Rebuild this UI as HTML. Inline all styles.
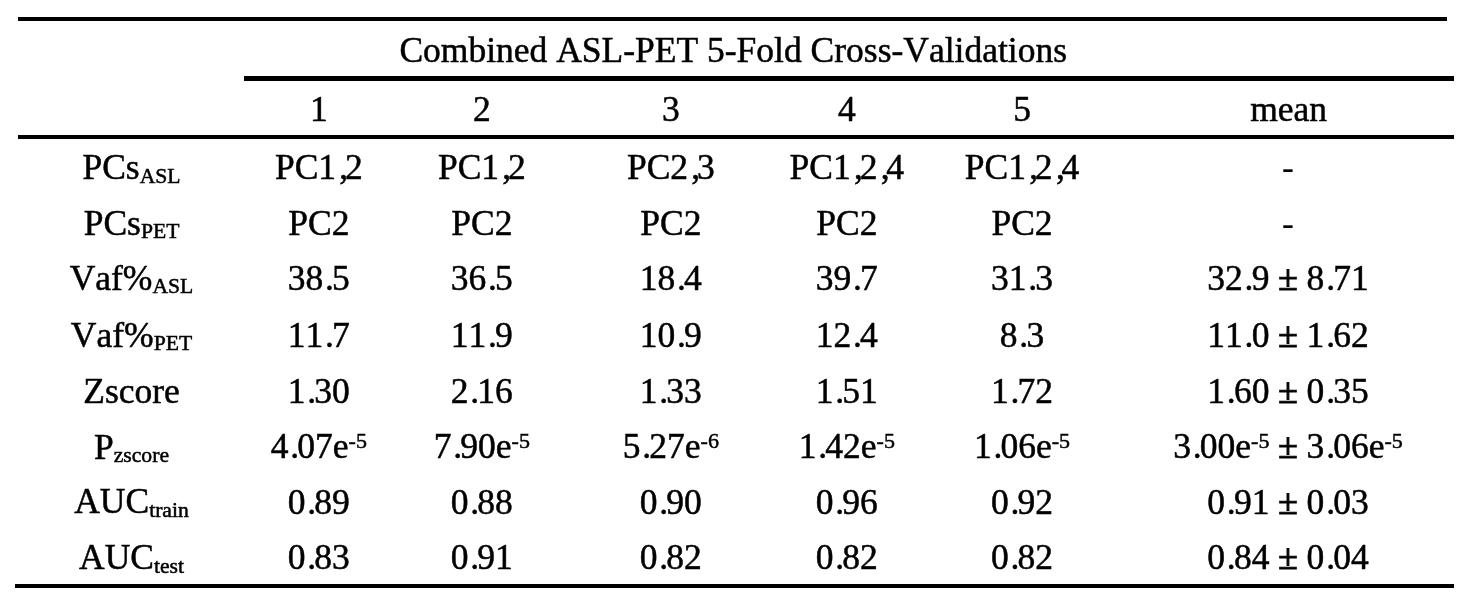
<!DOCTYPE html>
<html><head><meta charset="utf-8"><title>Table</title>
<style>
html,body{margin:0;padding:0;background:#fff;}
body{width:1470px;height:610px;position:relative;overflow:hidden;font-family:"Liberation Serif","Times New Roman",serif;color:#000;}
.ln{position:absolute;background:#000;}
.t{position:absolute;width:0;height:0;line-height:0;white-space:nowrap;}
.t>span{position:absolute;left:0;top:0;transform:translateX(-50%);display:inline-block;line-height:0;}
.pm{-webkit-text-stroke:1.1px #000;}
.hy{-webkit-text-stroke:0.1px #000;}
.pd{position:relative;left:0.05em;}
.cm{position:relative;left:0.093em;}
.t{font-kerning:none;font-feature-settings:'kern' 0,'liga' 0;-webkit-text-stroke:0.5px #000;-webkit-font-smoothing:antialiased;}
.sb{font-size:61%;position:relative;}
.sp{font-size:62%;position:relative;top:-0.47em;}
#w{position:absolute;left:0;top:0;width:1470px;height:610px;will-change:transform;}
</style></head><body><div id="w">
<div class="ln" style="left:18px;top:17px;width:1429px;height:4px"></div><div class="ln" style="left:244px;top:76px;width:1210px;height:5px"></div><div class="ln" style="left:18px;top:135px;width:1436px;height:4px"></div><div class="ln" style="left:15px;top:584px;width:1439px;height:4px"></div>
<div class="t" style="left:733.2px;top:50.0187px;font-size:35.5px;"><span>Combined ASL-PET 5-Fold Cross-Validations</span></div>
<div class="t" style="left:318.8px;top:109.119px;font-size:35.5px;"><span>1</span></div>
<div class="t" style="left:481.8px;top:109.119px;font-size:35.5px;"><span>2</span></div>
<div class="t" style="left:670.8px;top:109.119px;font-size:35.5px;"><span>3</span></div>
<div class="t" style="left:846.8px;top:109.119px;font-size:35.5px;"><span>4</span></div>
<div class="t" style="left:1022px;top:109.119px;font-size:35.5px;"><span>5</span></div>
<div class="t" style="left:1288.6px;top:109.119px;font-size:35.5px;"><span>mean</span></div>
<div class="t" style="left:131.5px;top:166.519px;font-size:35.5px;"><span>PCs<span class="sb" style="top:4.3px">ASL</span></span></div>
<div class="t" style="left:318.8px;top:167.019px;font-size:35.5px;"><span>PC1<span class="cm">,</span>2</span></div>
<div class="t" style="left:481.8px;top:167.019px;font-size:35.5px;"><span>PC1<span class="cm">,</span>2</span></div>
<div class="t" style="left:670.8px;top:167.019px;font-size:35.5px;"><span>PC2<span class="cm">,</span>3</span></div>
<div class="t" style="left:846.8px;top:167.019px;font-size:35.5px;"><span>PC1<span class="cm">,</span>2<span class="cm">,</span>4</span></div>
<div class="t" style="left:1022px;top:167.019px;font-size:35.5px;"><span>PC1<span class="cm">,</span>2<span class="cm">,</span>4</span></div>
<div class="t" style="left:1288px;top:167.019px;font-size:35.5px;"><span><span class="hy">-</span></span></div>
<div class="t" style="left:131.5px;top:222.619px;font-size:35.5px;"><span>PCs<span class="sb" style="top:3px">PET</span></span></div>
<div class="t" style="left:318.8px;top:223.019px;font-size:35.5px;"><span>PC2</span></div>
<div class="t" style="left:481.8px;top:223.019px;font-size:35.5px;"><span>PC2</span></div>
<div class="t" style="left:670.8px;top:223.019px;font-size:35.5px;"><span>PC2</span></div>
<div class="t" style="left:846.8px;top:223.019px;font-size:35.5px;"><span>PC2</span></div>
<div class="t" style="left:1022px;top:223.019px;font-size:35.5px;"><span>PC2</span></div>
<div class="t" style="left:1288px;top:223.019px;font-size:35.5px;"><span><span class="hy">-</span></span></div>
<div class="t" style="left:131.5px;top:278.419px;font-size:35.5px;"><span>Vaf%<span class="sb" style="top:2.3px">ASL</span></span></div>
<div class="t" style="left:318.8px;top:278.319px;font-size:35.5px;"><span>38<span class="pd">.</span>5</span></div>
<div class="t" style="left:481.8px;top:278.319px;font-size:35.5px;"><span>36<span class="pd">.</span>5</span></div>
<div class="t" style="left:670.8px;top:278.319px;font-size:35.5px;"><span>18<span class="pd">.</span>4</span></div>
<div class="t" style="left:846.8px;top:278.319px;font-size:35.5px;"><span>39<span class="pd">.</span>7</span></div>
<div class="t" style="left:1022px;top:278.319px;font-size:35.5px;"><span>31<span class="pd">.</span>3</span></div>
<div class="t" style="left:1288px;top:278.319px;font-size:35.5px;"><span>32<span class="pd">.</span>9 <span class="pm">±</span> 8<span class="pd">.</span>71</span></div>
<div class="t" style="left:131.5px;top:334.619px;font-size:35.5px;"><span>Vaf%<span class="sb" style="top:3.3px">PET</span></span></div>
<div class="t" style="left:318.8px;top:335.019px;font-size:35.5px;"><span>11<span class="pd">.</span>7</span></div>
<div class="t" style="left:481.8px;top:335.019px;font-size:35.5px;"><span>11<span class="pd">.</span>9</span></div>
<div class="t" style="left:670.8px;top:335.019px;font-size:35.5px;"><span>10<span class="pd">.</span>9</span></div>
<div class="t" style="left:846.8px;top:335.019px;font-size:35.5px;"><span>12<span class="pd">.</span>4</span></div>
<div class="t" style="left:1022px;top:335.019px;font-size:35.5px;"><span>8<span class="pd">.</span>3</span></div>
<div class="t" style="left:1288px;top:335.019px;font-size:35.5px;"><span>11<span class="pd">.</span>0 <span class="pm">±</span> 1<span class="pd">.</span>62</span></div>
<div class="t" style="left:131.5px;top:391.019px;font-size:35.5px;"><span>Zscore</span></div>
<div class="t" style="left:318.8px;top:391.019px;font-size:35.5px;"><span>1<span class="pd">.</span>30</span></div>
<div class="t" style="left:481.8px;top:391.019px;font-size:35.5px;"><span>2<span class="pd">.</span>16</span></div>
<div class="t" style="left:670.8px;top:391.019px;font-size:35.5px;"><span>1<span class="pd">.</span>33</span></div>
<div class="t" style="left:846.8px;top:391.019px;font-size:35.5px;"><span>1<span class="pd">.</span>51</span></div>
<div class="t" style="left:1022px;top:391.019px;font-size:35.5px;"><span>1<span class="pd">.</span>72</span></div>
<div class="t" style="left:1288px;top:391.019px;font-size:35.5px;"><span>1<span class="pd">.</span>60 <span class="pm">±</span> 0<span class="pd">.</span>35</span></div>
<div class="t" style="left:131.5px;top:446.619px;font-size:35.5px;"><span>P<span class="sb" style="top:3px">zscore</span></span></div>
<div class="t" style="left:318.8px;top:446.019px;font-size:35.5px;"><span>4<span class="pd">.</span>07e<span class="sp">-5</span></span></div>
<div class="t" style="left:481.8px;top:446.019px;font-size:35.5px;"><span>7<span class="pd">.</span>90e<span class="sp">-5</span></span></div>
<div class="t" style="left:670.8px;top:446.019px;font-size:35.5px;"><span>5<span class="pd">.</span>27e<span class="sp">-6</span></span></div>
<div class="t" style="left:846.8px;top:446.019px;font-size:35.5px;"><span>1<span class="pd">.</span>42e<span class="sp">-5</span></span></div>
<div class="t" style="left:1022px;top:446.019px;font-size:35.5px;"><span>1<span class="pd">.</span>06e<span class="sp">-5</span></span></div>
<div class="t" style="left:1288px;top:446.019px;font-size:35.5px;"><span>3<span class="pd">.</span>00e<span class="sp">-5</span> <span class="pm">±</span> 3<span class="pd">.</span>06e<span class="sp">-5</span></span></div>
<div class="t" style="left:131.5px;top:501.019px;font-size:35.5px;"><span>AUC<span class="sb" style="top:4.4px">train</span></span></div>
<div class="t" style="left:318.8px;top:501.519px;font-size:35.5px;"><span>0<span class="pd">.</span>89</span></div>
<div class="t" style="left:481.8px;top:501.519px;font-size:35.5px;"><span>0<span class="pd">.</span>88</span></div>
<div class="t" style="left:670.8px;top:501.519px;font-size:35.5px;"><span>0<span class="pd">.</span>90</span></div>
<div class="t" style="left:846.8px;top:501.519px;font-size:35.5px;"><span>0<span class="pd">.</span>96</span></div>
<div class="t" style="left:1022px;top:501.519px;font-size:35.5px;"><span>0<span class="pd">.</span>92</span></div>
<div class="t" style="left:1288px;top:501.519px;font-size:35.5px;"><span>0<span class="pd">.</span>91 <span class="pm">±</span> 0<span class="pd">.</span>03</span></div>
<div class="t" style="left:131.5px;top:556.819px;font-size:35.5px;"><span>AUC<span class="sb" style="top:4.1px">test</span></span></div>
<div class="t" style="left:318.8px;top:556.819px;font-size:35.5px;"><span>0<span class="pd">.</span>83</span></div>
<div class="t" style="left:481.8px;top:556.819px;font-size:35.5px;"><span>0<span class="pd">.</span>91</span></div>
<div class="t" style="left:670.8px;top:556.819px;font-size:35.5px;"><span>0<span class="pd">.</span>82</span></div>
<div class="t" style="left:846.8px;top:556.819px;font-size:35.5px;"><span>0<span class="pd">.</span>82</span></div>
<div class="t" style="left:1022px;top:556.819px;font-size:35.5px;"><span>0<span class="pd">.</span>82</span></div>
<div class="t" style="left:1288px;top:556.819px;font-size:35.5px;"><span>0<span class="pd">.</span>84 <span class="pm">±</span> 0<span class="pd">.</span>04</span></div>
</div></body></html>
